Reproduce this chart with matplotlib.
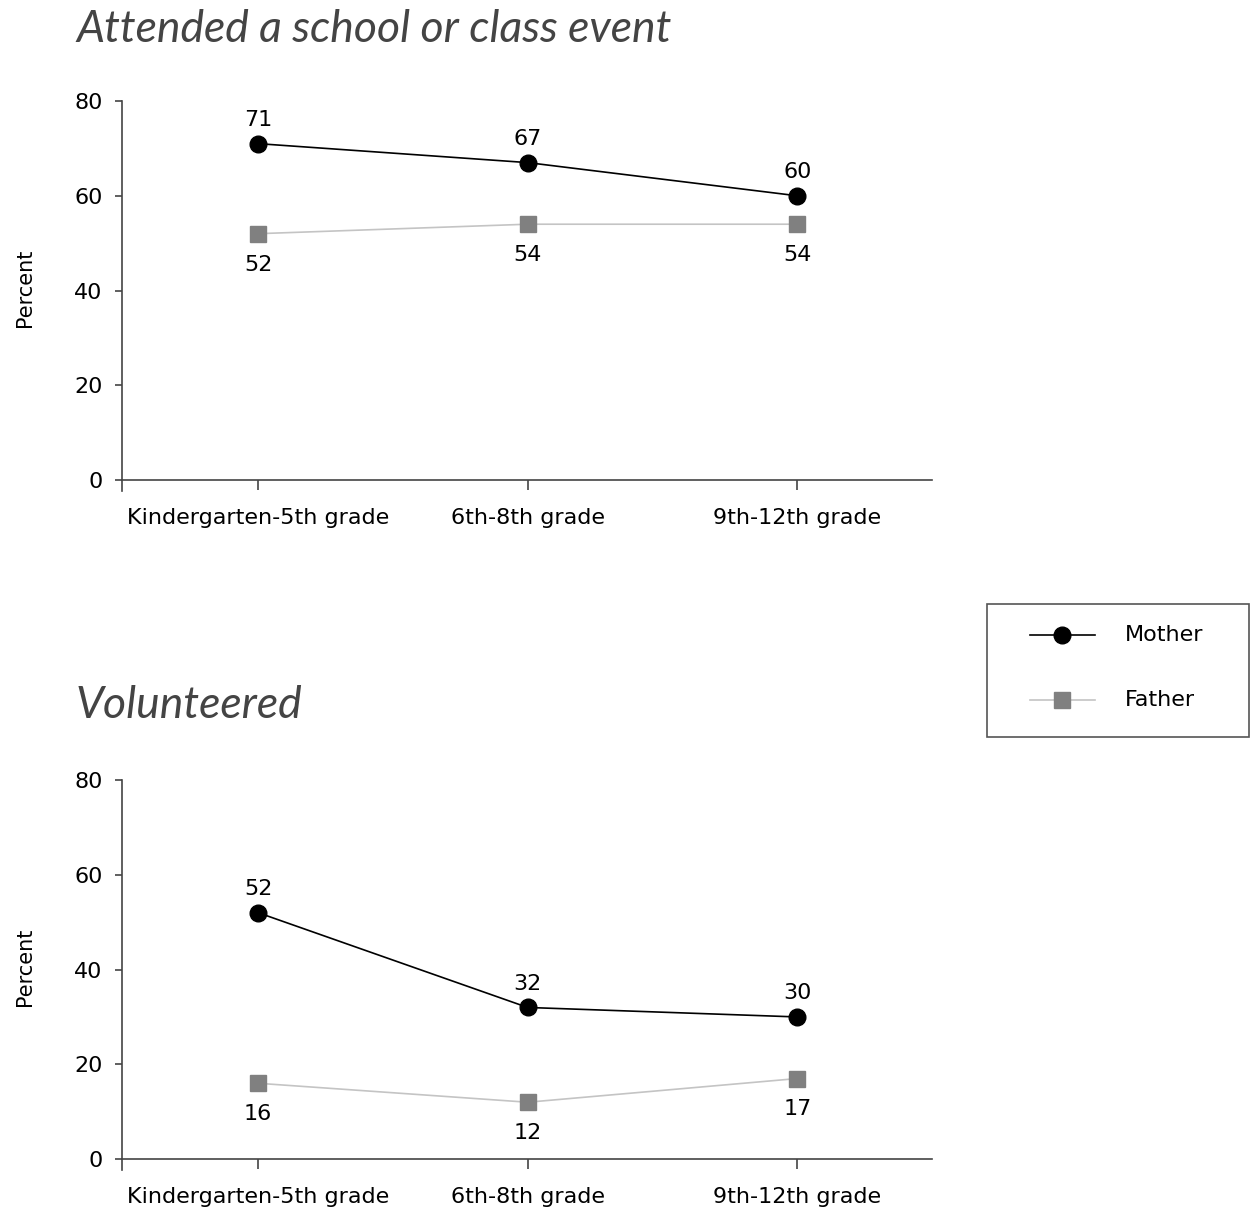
import matplotlib.pyplot as plt
from matplotlib.lines import Line2D
from matplotlib.patches import Rectangle

# data
grades = ["Kindergarten-5th grade", "6th-8th grade", "9th-12th grade"]
panel_titles = ["Attended a school or class event", "Volunteered"]
mother_attended = [71, 67, 60]
father_attended = [52, 54, 54]
mother_volunteered = [52, 32, 30]
father_volunteered = [16, 12, 17]
y_ticks = [0, 20, 40, 60, 80]

plt.rcParams['font.family'] = ['DejaVu Sans']

fig = plt.figure(figsize=(12.51, 12.17), dpi=100)
W, H = 1251, 1217


def px_axes(left, top, right, bottom):
    return fig.add_axes([left / W, 1 - bottom / H, (right - left) / W, (bottom - top) / H])


def fx(px):
    return px / W


def fy(px):
    return 1 - px / H


ax1 = px_axes(122, 101, 932, 491)
ax2 = px_axes(122, 780, 932, 1170)

panels = [
    (ax1, panel_titles[0], mother_attended, father_attended, 29),
    (ax2, panel_titles[1], mother_volunteered, father_volunteered, 706),
]

mother_style = dict(color="black", lw=1.2, marker="o", ms=12, mfc="black", mec="black")
father_style = dict(color="#c4c4c4", lw=1.2, marker="s", ms=11, mfc="#808080", mec="#808080")

x = list(range(len(grades)))
for ax, title, mom, dad, title_y in panels:
    ax.plot(x, dad, zorder=2, **father_style)
    ax.plot(x, mom, zorder=3, **mother_style)
    for xi, v in zip(x, mom):
        ax.annotate(str(v), (xi, v), xytext=(0, 10), textcoords="offset points",
                    ha="center", va="bottom", fontsize=16)
    for xi, v in zip(x, dad):
        ax.annotate(str(v), (xi, v), xytext=(0, -15), textcoords="offset points",
                    ha="center", va="top", fontsize=16)

    ax.set_xlim(-0.505, 2.5)
    ax.set_ylim(-2.3, 80)
    ax.set_xticks(x)
    ax.set_xticklabels(grades)
    ax.set_yticks(y_ticks)
    ax.tick_params(axis="y", labelsize=16, length=5, width=1.2, color="#444444", pad=9)
    ax.tick_params(axis="x", labelsize=16, length=7, width=1.2, color="#444444", pad=13)
    for s in ["top", "right"]:
        ax.spines[s].set_visible(False)
    ax.spines["bottom"].set_position(("data", 0))
    ax.spines["left"].set_bounds(-2.3, 80)
    for s in ["left", "bottom"]:
        ax.spines[s].set_color("#444444")
        ax.spines[s].set_linewidth(1.2)
    ax.set_ylabel("Percent", fontsize=15)
    ax.yaxis.set_label_coords(-0.108, 0.52)
    fig.text(76 / W, 1 - title_y / H, title, fontsize=32, style="italic",
             color="#444444", va="center", ha="left",
             family=["Lato", "DejaVu Sans"])

# legend box drawn by hand to match the reference spacing
fig.patches.append(Rectangle((fx(987), fy(737)), fx(1249) - fx(987), fy(604) - fy(737),
                             transform=fig.transFigure, fill=False,
                             edgecolor="#555555", lw=1.2))
for label, style, ypx in [("Mother", mother_style, 635), ("Father", father_style, 700)]:
    fig.add_artist(Line2D([fx(1030), fx(1095)], [fy(ypx)] * 2, transform=fig.transFigure,
                          color=style["color"], lw=style["lw"]))
    fig.add_artist(Line2D([fx(1062)], [fy(ypx)], transform=fig.transFigure, ls="none",
                          marker=style["marker"], ms=style["ms"],
                          mfc=style["mfc"], mec=style["mec"]))
    fig.text(fx(1125), fy(ypx), label, fontsize=16, va="center", ha="left")

fig.savefig("out.png", dpi=100)
